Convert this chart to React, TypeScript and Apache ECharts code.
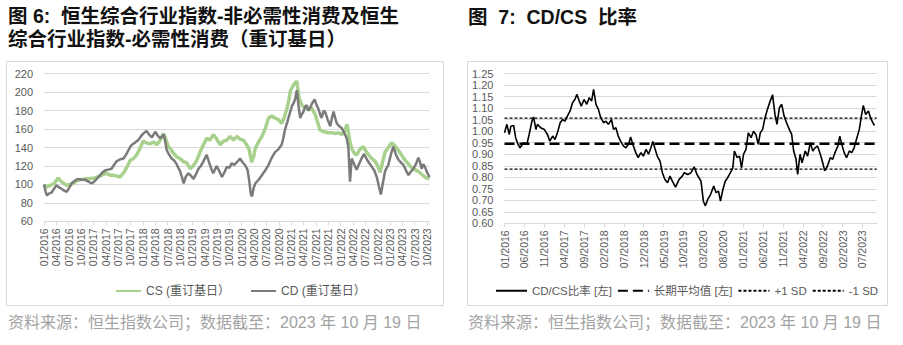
import React, { useEffect, useRef } from 'react';
import * as echarts from 'echarts';

const leftTickLabels = [
  '01/2016', '04/2016', '07/2016', '10/2016', '01/2017', '04/2017', '07/2017', '10/2017',
  '01/2018', '04/2018', '07/2018', '10/2018', '01/2019', '04/2019', '07/2019', '10/2019',
  '01/2020', '04/2020', '07/2020', '10/2020', '01/2021', '04/2021', '07/2021', '10/2021',
  '01/2022', '04/2022', '07/2022', '10/2022', '01/2023', '04/2023', '07/2023', '10/2023',
];
const rightTickLabels = [
  '01/2016', '06/2016', '11/2016', '04/2017', '09/2017', '02/2018', '07/2018', '12/2018',
  '05/2019', '10/2019', '03/2020', '08/2020', '01/2021', '06/2021', '11/2021', '04/2022',
  '09/2022', '02/2023', '07/2023',
];

// [months since 01/2016, index value]
const csData: [number, number][] = [
  [0, 100], [0.5, 97], [1, 98], [1.5, 99], [2.5, 101], [3.4, 107], [4.2, 103], [5.5, 99], [6.3, 100], [7, 101],
  [8, 104], [8.7, 105], [10, 106], [11.2, 106.5], [12.3, 107], [13.6, 109], [14.5, 111], [15.2, 112], [16, 110],
  [16.8, 110], [17.8, 109], [18.5, 108], [19.7, 115], [20.9, 126], [21.7, 128], [22.5, 132], [23.3, 139],
  [24.1, 147], [24.8, 145], [25.8, 144], [26.6, 146], [27.4, 143], [28.2, 148], [29, 155], [29.5, 150],
  [30.2, 141], [30.8, 138], [31.4, 134], [32.2, 130], [33, 128], [33.8, 125], [34.7, 123], [35.5, 117],
  [36.2, 120], [37.1, 126], [37.8, 134], [38.7, 143], [39.5, 150], [40.3, 148], [41.1, 154], [41.8, 150],
  [42.8, 143], [43.6, 147], [44.4, 148], [45.2, 152], [46, 148], [46.8, 152], [47.6, 149], [48.4, 148],
  [49.2, 143], [49.8, 138], [50.4, 124], [50.9, 130], [51.3, 139], [52.1, 146], [52.9, 152], [53.7, 160],
  [54.5, 172], [55.3, 174], [56.1, 172], [57, 170], [57.7, 166], [58.3, 172], [58.9, 181], [59.4, 190],
  [59.8, 201], [60.6, 208], [61.4, 212], [61.9, 194], [62.6, 186], [63.4, 183], [64.2, 181], [65, 183],
  [65.8, 176], [66.4, 168], [67, 159], [68, 157], [69, 156], [70, 156], [70.7, 155], [71.5, 156], [72.3, 154],
  [73, 158], [73.6, 165], [74.2, 148], [74.7, 139], [75.3, 134], [75.9, 132], [76.7, 138], [77.5, 141],
  [78.2, 136], [78.8, 132], [79.6, 128], [80.4, 125], [81, 120], [81.6, 113], [82.2, 124], [82.8, 135],
  [83.6, 140], [84.4, 145], [85.2, 142], [86, 137], [86.8, 132], [87.7, 126], [88.5, 122], [89.3, 118],
  [90.1, 116], [90.9, 114], [91.7, 111], [92.5, 108], [93.6, 106],
];

const cdData: [number, number][] = [
  [0, 100], [0.4, 92], [0.7, 88], [1.2, 90], [1.8, 91], [2.4, 95], [3, 99], [3.6, 97], [4.3, 95], [5, 93],
  [5.5, 92], [6.1, 96], [6.7, 101], [7.5, 104], [8.3, 106], [9.1, 105], [10, 105], [10.8, 103], [11.6, 101],
  [12.4, 104], [13.2, 108], [14, 112], [14.8, 115], [15.6, 116], [16.4, 117], [17, 121], [17.6, 125],
  [18.4, 127], [19.3, 128], [19.9, 132], [20.5, 137], [21.1, 142], [21.7, 144], [22.3, 146], [22.9, 148],
  [23.5, 152], [24.1, 155], [24.9, 158], [25.5, 154], [26.2, 151], [27, 157], [27.6, 153], [28.2, 150],
  [28.7, 152], [29.1, 154], [29.5, 145], [29.8, 137], [30.4, 132], [31, 128], [31.6, 126], [32.2, 122],
  [32.6, 118], [33, 115], [33.5, 108], [33.9, 101], [34.4, 108], [35, 112], [35.6, 110], [36.3, 106],
  [36.9, 111], [37.5, 117], [38.1, 120], [38.7, 125], [39.5, 132], [40.3, 121], [40.7, 116], [41.1, 112],
  [41.9, 120], [42.5, 115], [43.2, 108], [43.8, 113], [44.4, 119], [45, 118], [45.6, 123], [46.2, 121],
  [46.8, 124], [47.6, 128], [48.2, 124], [48.8, 121], [49.4, 116], [49.8, 105], [50.2, 90], [50.5, 87],
  [50.9, 96], [51.3, 101], [52.1, 105], [52.9, 110], [53.7, 115], [54.5, 121], [55.3, 129], [56.1, 135],
  [56.9, 138], [57.7, 143], [58.1, 150], [58.5, 159], [59.1, 168], [59.8, 179], [60.2, 185], [60.6, 188],
  [61, 193], [61.4, 202], [61.8, 185], [62.2, 172], [62.6, 176], [63, 179], [63.4, 184], [63.8, 186],
  [64.2, 180], [64.6, 183], [65.1, 188], [65.7, 192], [66.2, 186], [66.7, 181], [67.1, 175], [67.4, 172],
  [67.9, 180], [68.3, 178], [68.9, 170], [69.5, 163], [69.9, 172], [70.3, 179], [70.7, 172], [71.1, 166],
  [71.7, 163], [72.3, 161], [72.9, 156], [73.5, 150], [73.9, 140], [74.3, 103], [74.7, 128], [75.3, 122],
  [75.9, 116], [76.5, 122], [77.1, 128], [77.7, 133], [78.4, 127], [79, 123], [79.6, 119], [80.2, 115],
  [80.8, 108], [81.3, 98], [81.8, 89], [82.3, 102], [82.8, 114], [83.2, 118], [83.6, 121], [84.2, 132],
  [84.8, 141], [85.4, 133], [86, 127], [86.6, 124], [87.3, 121], [87.9, 115], [88.5, 110], [89.1, 114],
  [89.7, 117], [90.3, 122], [90.9, 129], [91.3, 124], [91.7, 117], [92.1, 122], [92.5, 119], [93, 113],
  [93.6, 108],
];

const ratioData: [number, number][] = [
  [0, 0.993], [0.6, 1.03], [1.2, 0.986], [1.6, 1.022], [2.3, 1.025], [2.8, 0.972], [3.4, 0.943], [3.9, 0.928],
  [4.8, 0.95], [5.6, 0.943], [6.2, 0.986], [6.9, 1.044], [7.3, 1.062], [7.9, 1.008], [8.3, 1.03], [9.1, 1.015],
  [10, 1.008], [10.8, 0.986], [11.4, 0.957], [12.1, 0.979], [12.7, 0.964], [13.3, 0.993], [14, 1.037],
  [14.6, 1.051], [15.2, 1.044], [15.8, 1.066], [16.5, 1.088], [17.1, 1.124], [17.7, 1.138], [18.2, 1.16],
  [18.8, 1.131], [19.3, 1.109], [20, 1.138], [20.7, 1.117], [21.3, 1.146], [21.9, 1.131], [22.4, 1.182],
  [23, 1.117], [23.6, 1.095], [24.2, 1.059], [24.9, 1.037], [25.5, 1.044], [26.1, 1.03], [26.9, 1.051],
  [27.4, 1.008], [28, 1.015], [28.6, 0.979], [29.2, 0.957], [29.9, 0.936], [30.5, 0.928], [31.2, 0.943],
  [31.7, 0.975], [32.4, 0.936], [33, 0.907], [33.6, 0.885], [34.3, 0.907], [34.9, 0.892], [35.6, 0.921],
  [36.2, 0.9], [36.8, 0.928], [37.3, 0.955], [37.9, 0.921], [38.4, 0.892], [39.1, 0.87], [39.7, 0.82],
  [40.3, 0.791], [41, 0.776], [41.6, 0.805], [42.2, 0.783], [43, 0.757], [43.9, 0.791], [44.7, 0.805],
  [45.2, 0.82], [46.1, 0.812], [46.9, 0.82], [47.7, 0.845], [48.4, 0.812], [49.4, 0.783], [50, 0.696],
  [50.5, 0.676], [51.1, 0.704], [51.8, 0.725], [52.6, 0.762], [53.2, 0.733], [53.8, 0.74], [54.3, 0.696],
  [54.9, 0.747], [55.5, 0.783], [56.1, 0.798], [56.8, 0.82], [57.4, 0.841], [57.8, 0.914], [58.5, 0.885],
  [59.1, 0.892], [59.6, 0.841], [60.1, 0.9], [60.7, 0.921], [61.3, 0.993], [62, 0.972], [62.6, 1.0],
  [63.2, 0.986], [63.8, 0.943], [64.3, 0.993], [64.9, 1.008], [65.5, 1.059], [66.1, 1.095], [66.8, 1.131],
  [67.4, 1.158], [68, 1.073], [68.5, 1.03], [69.1, 1.102], [69.7, 1.117], [70.3, 1.066], [70.9, 1.037],
  [71.6, 1.008], [72.2, 0.986], [72.7, 0.914], [73.3, 0.878], [73.7, 0.812], [74.3, 0.9], [74.8, 0.863],
  [75.6, 0.914], [76.2, 0.892], [76.9, 0.95], [77.5, 0.914], [78.1, 0.928], [78.7, 0.936], [79.4, 0.9],
  [80, 0.863], [80.5, 0.828], [81.2, 0.849], [81.9, 0.885], [82.5, 0.878], [83.1, 0.907], [83.8, 0.936],
  [84.3, 0.979], [84.8, 0.943], [85.4, 0.907], [86, 0.885], [86.7, 0.914], [87.3, 0.907], [87.9, 0.928],
  [88.6, 0.972], [89.2, 1.008], [89.8, 1.073], [90.2, 1.112], [90.8, 1.073], [91.5, 1.088], [92, 1.059],
  [92.6, 1.037], [93, 1.025],
];

const ratioMean = 0.946;
const ratioPlusSD = 1.057;
const ratioMinusSD = 0.835;
const xEnd = 93.6;

const leftTitle1 = '图 6:  恒生综合行业指数-非必需性消费及恒生';
const leftTitle2 = '综合行业指数-必需性消费（重订基日）';
const rightTitle = '图  7:  CD/CS  比率';
const sourceText = '资料来源：恒生指数公司；数据截至：2023 年 10 月 19 日';

const csName = 'CS (重订基日）';
const cdName = 'CD (重订基日）';
const ratioName = 'CD/CS比率 [左]';
const meanName = '长期平均值 [左]';
const plusName = '+1 SD';
const minusName = '-1 SD';

const FONT = "'Liberation Sans', 'Noto Sans CJK SC', sans-serif";
const GRID_C = '#d9d9d9';
const LABEL_C = '#595959';

function tickFormatter(labels: string[], step: number) {
  return (v: number) => {
    const i = Math.round(v / step);
    if (Math.abs(v - i * step) > 1e-6) return '';
    return labels[i] ?? '';
  };
}

export default function App() {
  const ref = useRef<HTMLDivElement>(null);
  useEffect(() => {
    const chart = echarts.init(ref.current!, null, { renderer: 'svg' });
    const xAxisBase = (idx: number, step: number, labels: string[]) => ({
      type: 'value',
      gridIndex: idx,
      min: 0,
      max: xEnd,
      interval: step,
      splitLine: { show: false },
      axisLine: { show: true, lineStyle: { color: GRID_C, width: 1 } },
      axisTick: { show: true, length: 4, lineStyle: { color: GRID_C } },
      axisLabel: {
        rotate: 90,
        fontSize: 10.5,
        color: LABEL_C,
        margin: 7,
        fontFamily: FONT,
        showMaxLabel: false,
        formatter: tickFormatter(labels, step),
      },
    });
    const line = (name: string, xi: number, data: any, color: string, width: number, type: any = 'solid') => ({
      type: 'line',
      name,
      xAxisIndex: xi,
      yAxisIndex: xi,
      data,
      symbol: 'none',
      showSymbol: false,
      silent: true,
      lineStyle: { color, width, type },
      itemStyle: { color: 'rgba(0,0,0,0)' },
    });
    const option: any = {
      animation: false,
      backgroundColor: '#ffffff',
      textStyle: { fontFamily: FONT },
      grid: [
        { left: 44, top: 73.7, width: 385.5, height: 147.6 },
        { left: 504.5, top: 73.7, width: 372.3, height: 149.6 },
      ],
      xAxis: [xAxisBase(0, 3, leftTickLabels), xAxisBase(1, 5, rightTickLabels)],
      yAxis: [
        {
          type: 'value', gridIndex: 0, min: 60, max: 220, interval: 20,
          axisLine: { show: false }, axisTick: { show: false },
          splitLine: { lineStyle: { color: GRID_C, width: 1 } },
          axisLabel: { fontSize: 11, color: LABEL_C, margin: 11, fontFamily: FONT },
        },
        {
          type: 'value', gridIndex: 1, min: 0.6, max: 1.25, interval: 0.05,
          axisLine: { show: false }, axisTick: { show: false },
          splitLine: { lineStyle: { color: GRID_C, width: 1 } },
          axisLabel: { fontSize: 11, color: LABEL_C, margin: 11, fontFamily: FONT, formatter: (v: number) => v.toFixed(2) },
        },
      ],
      legend: [
        {
          data: [csName, cdName], left: 110, top: 280, itemWidth: 25, itemHeight: 12, itemGap: 20,
          textStyle: { fontSize: 12, color: LABEL_C, fontFamily: FONT }, selectedMode: false,
        },
        {
          data: [ratioName, meanName, plusName, minusName], left: 490, top: 280, width: 413,
          itemWidth: 31, itemHeight: 12, itemGap: 5,
          textStyle: { fontSize: 11.5, color: LABEL_C, fontFamily: FONT }, selectedMode: false,
        },
      ],
      series: [
        line(csName, 0, csData, '#a9d18e', 3.5),
        line(cdName, 0, cdData, '#7a7a7a', 2.5),
        line(ratioName, 1, ratioData, '#000000', 1.6),
        line(meanName, 1, [[0, ratioMean], [xEnd, ratioMean]], '#000000', 2.5, [10, 5]),
        line(plusName, 1, [[0, ratioPlusSD], [xEnd, ratioPlusSD]], '#000000', 1.3, [3, 2]),
        line(minusName, 1, [[0, ratioMinusSD], [xEnd, ratioMinusSD]], '#000000', 1.3, [3, 2]),
      ],
      graphic: [
        { type: 'rect', shape: { x: 6.5, y: 61.5, width: 437, height: 244 }, style: { fill: 'none', stroke: GRID_C, lineWidth: 1 }, silent: true },
        { type: 'rect', shape: { x: 467.5, y: 61.5, width: 420, height: 244 }, style: { fill: 'none', stroke: GRID_C, lineWidth: 1 }, silent: true },
        { type: 'text', x: 8, y: 16, style: { text: leftTitle1, fontSize: 19.5, fontWeight: 'bold', fontFamily: FONT, fill: '#111', verticalAlign: 'middle' } },
        { type: 'text', x: 8, y: 38.5, style: { text: leftTitle2, fontSize: 19.5, fontWeight: 'bold', fontFamily: FONT, fill: '#111', verticalAlign: 'middle' } },
        { type: 'text', x: 468, y: 17, style: { text: rightTitle, fontSize: 19.5, fontWeight: 'bold', fontFamily: FONT, fill: '#111', verticalAlign: 'middle' } },
        { type: 'text', x: 8, y: 322, style: { text: sourceText, fontSize: 16, fontFamily: FONT, fill: '#a3a3a3', verticalAlign: 'middle' } },
        { type: 'text', x: 468, y: 322, style: { text: sourceText, fontSize: 16, fontFamily: FONT, fill: '#a3a3a3', verticalAlign: 'middle' } },
      ],
    };
    chart.setOption(option);
    return () => chart.dispose();
  }, []);
  return (
    <div
      ref={ref}
      style={{ position: 'absolute', left: 0, top: 0, width: 903, height: 345, background: '#fff' }}
    />
  );
}
